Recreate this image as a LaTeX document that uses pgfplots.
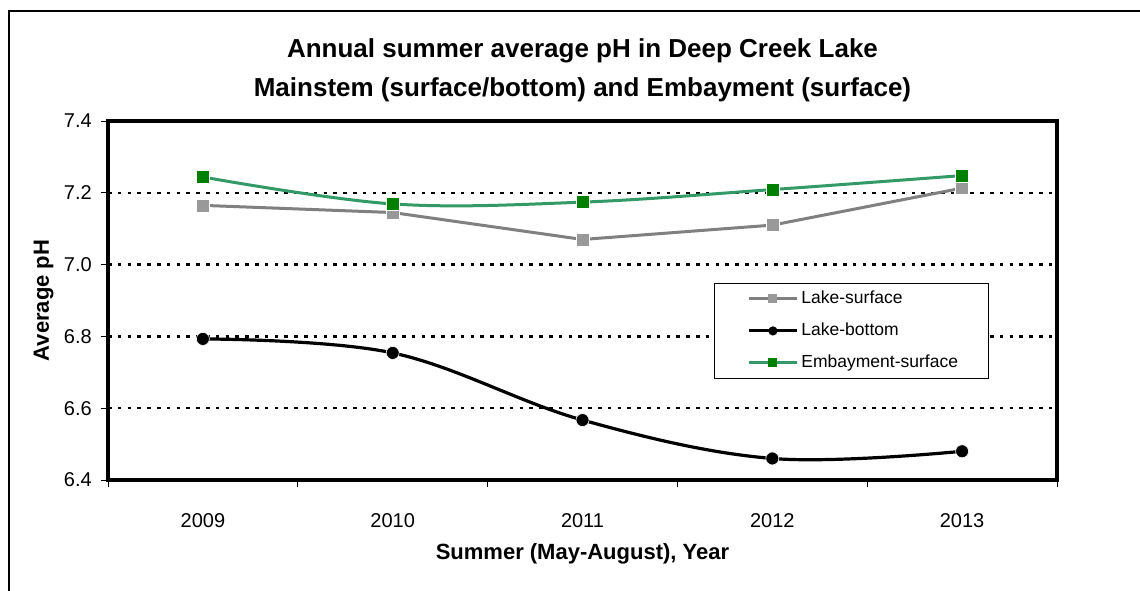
\documentclass[border=0pt]{standalone}
\usepackage{fontspec}
\setmainfont{Liberation Sans}
\usepackage{pgfplots}
\pgfplotsset{compat=1.18}
\definecolor{lsgray}{RGB}{153,153,153}
\definecolor{lsline}{RGB}{128,128,128}
\definecolor{embgreen}{RGB}{0,128,0}
\definecolor{embline}{RGB}{51,153,102}
\begin{document}
\begin{tikzpicture}[x=1pt,y=1pt]
\useasboundingbox (0,0) rectangle (1140,-591);
\draw[line width=1.5pt] (9,-591) -- (9,-11) -- (1140,-11);
\begin{axis}[
  at={(108pt,-480pt)}, anchor=south west,
  width=949pt, height=359pt, scale only axis,
  xmin=-0.5, xmax=4.5, ymin=6.4, ymax=7.4,
  xtick={-0.5,0.5,1.5,2.5,3.5,4.5},
  xticklabels={2009,2010,2011,2012,2013,{}},
  ytick={6.4,6.6,6.8,7.0,7.2,7.4},
  xtick pos=bottom, ytick pos=left,
  tick align=outside, major tick length=7pt,
  tick style={black, line width=1pt},
  axis line style={line width=3.5pt},
  ymajorgrids,
  major grid style={black, line width=2.3pt, dash pattern=on 3.5pt off 6.3pt},
  ticklabel style={font=\fontsize{20}{24}\selectfont},
  xticklabel style={anchor=base, xshift=94.9pt, yshift=-40pt},
  yticklabel style={anchor=east, inner sep=0pt, xshift=-9pt,
    /pgf/number format/fixed, /pgf/number format/precision=1,
    /pgf/number format/fixed zerofill, /pgf/number format/assume math mode=true},
  xlabel={Summer (May-August), Year},
  ylabel={Average pH},
  label style={font=\fontsize{22}{26}\selectfont\bfseries},
  xlabel style={at={(axis description cs:0.5,-0.2228)}, anchor=base},
  ylabel style={at={(axis description cs:-0.0622,0.5)}, anchor=base},
  legend style={at={(axis description cs:0.6386,0.5487)}, anchor=north west,
    draw=black, line width=0.8pt, fill=white, inner xsep=0pt, inner ysep=4pt,
    font=\fontsize{17.5}{21}\selectfont, row sep=9pt,
    nodes={text height=13pt, text depth=4pt, inner xsep=3pt, inner ysep=3pt}},
  legend cell align=left,
  legend image code/.code={\path (-33pt,0pt); \draw[mark repeat=2,mark phase=2,#1] plot coordinates {(0pt,0pt) (24pt,0pt) (48pt,0pt)};},
]
\addplot[forget plot, lsline, line width=3pt, mark=square*, mark size=6.5pt,
  mark options={fill=lsgray, draw=white, line width=0.6pt}]
  coordinates {(0,7.165) (1,7.145) (2,7.070) (3,7.110) (4,7.213)};
\addplot[forget plot, black, line width=3.2pt, smooth, tension=0.6, mark=*, mark size=6.5pt,
  mark options={fill=black, draw=white, line width=0.6pt}]
  coordinates {(0,6.793) (1,6.754) (2,6.567) (3,6.460) (4,6.480)};
\addplot[forget plot, embline, line width=3pt, smooth, tension=0.6, mark=square*, mark size=6.5pt,
  mark options={fill=embgreen, draw=white, line width=0.6pt}]
  coordinates {(0,7.244) (1,7.169) (2,7.174) (3,7.209) (4,7.248)};
\addlegendimage{lsline, line width=3pt, mark=square*, mark size=3pt, mark options={fill=lsgray, draw=lsgray}}
\addlegendentry{\makebox[184pt][l]{Lake-surface}}
\addlegendimage{black, line width=3pt, mark=*, mark size=3pt, mark options={fill=black}}
\addlegendentry{\makebox[184pt][l]{Lake-bottom}}
\addlegendimage{embline, line width=3pt, mark=square*, mark size=3pt, mark options={fill=embgreen, draw=embgreen}}
\addlegendentry{\makebox[184pt][l]{Embayment-surface}}
\end{axis}
\node[anchor=base, font=\fontsize{26}{30}\selectfont\bfseries] at (582.5,-58) {Annual summer average pH in Deep Creek Lake};
\node[anchor=base, font=\fontsize{26}{30}\selectfont\bfseries] at (582.5,-97) {Mainstem (surface/bottom) and Embayment (surface)};
\end{tikzpicture}
\end{document}
